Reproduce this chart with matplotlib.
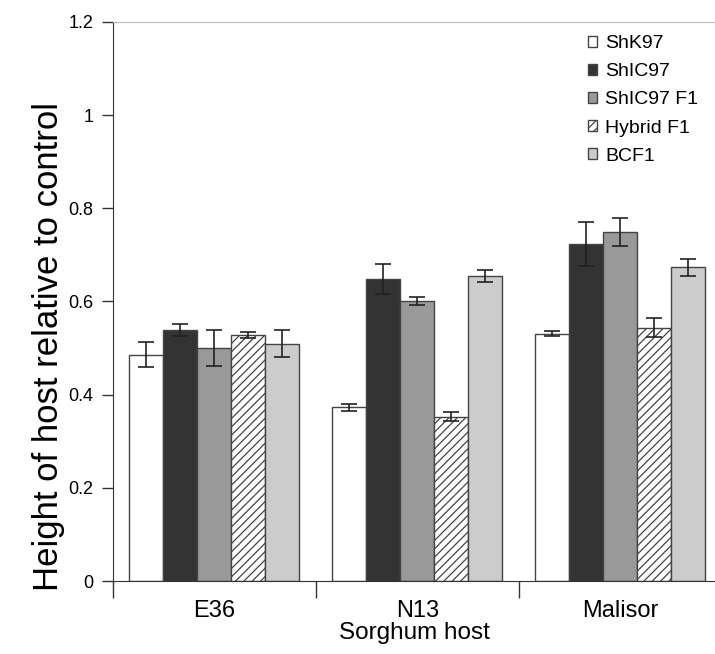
import numpy as np
import matplotlib.pyplot as plt

plt.rcParams['font.family'] = ['Liberation Sans', 'DejaVu Sans']
plt.rcParams['hatch.color'] = '#555555'
plt.rcParams['hatch.linewidth'] = 0.9

# Данные
hosts = ['E36', 'N13', 'Malisor']
labels = ['ShK97', 'ShIC97', 'ShIC97 F1', 'Hybrid F1', 'BCF1']

shk97 = [0.486, 0.373, 0.531]
shk97_err = [0.026, 0.008, 0.006]
shic97 = [0.538, 0.649, 0.724]
shic97_err = [0.013, 0.032, 0.047]
shic97_f1 = [0.500, 0.601, 0.750]
shic97_f1_err = [0.039, 0.009, 0.030]
hybrid_f1 = [0.528, 0.353, 0.544]
hybrid_f1_err = [0.007, 0.010, 0.020]
bcf1 = [0.509, 0.654, 0.673]
bcf1_err = [0.029, 0.013, 0.019]

series = [shk97, shic97, shic97_f1, hybrid_f1, bcf1]
errors = [shk97_err, shic97_err, shic97_f1_err, hybrid_f1_err, bcf1_err]
colors = ['#ffffff', '#333333', '#999999', '#ffffff', '#cccccc']
hatches = [None, None, None, '////', None]

fig = plt.figure(figsize=(7.15, 6.54), dpi=100)
ax = fig.add_axes([0.158, 0.1116, 0.842, 0.8548])

x = np.arange(len(hosts))
width = 0.1675
for i, (y, err, c, h, lab) in enumerate(zip(series, errors, colors, hatches, labels)):
    pos = x + (i - 2) * width
    ax.bar(pos, y, width, color=c, edgecolor='#444444', linewidth=1.0,
           hatch=h, label=lab, zorder=2)
    ax.errorbar(pos, y, yerr=err, fmt='none', ecolor='#222222',
                elinewidth=1.2, capsize=6, capthick=1.2, zorder=3)

ax.set_ylim(0, 1.2)
ax.set_xlim(-0.5, 2.466)
ax.set_yticks(np.arange(0, 1.21, 0.2))
ax.set_yticklabels(['0', '0.2', '0.4', '0.6', '0.8', '1', '1.2'], fontsize=13)

# деления между группами, подписи по центру
ax.set_xticks([-0.5, 0.5, 1.5])
ax.set_xticklabels([])
ax.set_xticks(x, minor=True)
ax.set_xticklabels(hosts, minor=True, fontsize=17)
ax.tick_params(axis='x', which='minor', length=0, pad=14)
ax.tick_params(axis='x', which='major', length=12, width=1, color='#333333')
ax.tick_params(axis='y', length=8, width=1, color='#333333', pad=6)

ax.set_xlabel('Sorghum host', fontsize=17.5, labelpad=0)
ax.set_ylabel('Height of host relative to control', fontsize=25)
ax.yaxis.set_label_coords(-0.08, 0.419)

ax.spines['right'].set_visible(False)
ax.spines['top'].set_color('#bbbbbb')
ax.spines['left'].set_color('#333333')
ax.spines['bottom'].set_color('#333333')

ax.legend(loc='upper left', bbox_to_anchor=(0.822, 0.946), bbox_transform=fig.transFigure,
          frameon=False, fontsize=14, handlelength=0.5, handleheight=0.5,
          handletextpad=0.4, labelspacing=0.57, borderpad=0, borderaxespad=0)

fig.savefig('out.png', dpi=100)
